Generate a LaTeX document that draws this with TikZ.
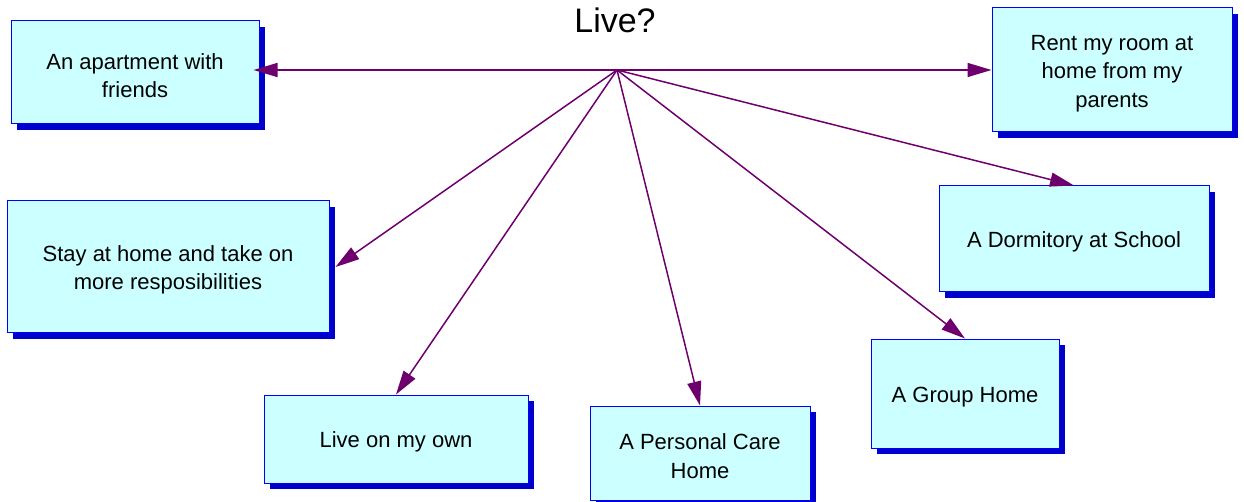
\documentclass[tikz,border=0pt]{standalone}
\usepackage{fontspec}
\setmainfont{Liberation Sans}
\usetikzlibrary{arrows.meta,shadows,calc}
\definecolor{boxfill}{HTML}{CCFFFF}
\definecolor{boxline}{HTML}{0000FF}
\definecolor{boxshade}{HTML}{0000CC}
\definecolor{linkline}{HTML}{6E006E}
\newcommand{\topgap}{\rule{0pt}{22pt}}
\tikzset{
    choice/.style={draw=boxline, fill=boxfill, line width=1pt, align=center, inner sep=0pt,
        font=\fontsize{22}{28.5}\selectfont, execute at begin node={\topgap},
        drop shadow={shadow xshift=6pt, shadow yshift=-6pt, fill=boxshade, opacity=1}},
    link/.style={draw=linkline, line width=1.5pt, -{Triangle[length=24pt,width=14pt]}}
}

\begin{document}
\begin{tikzpicture}[x=1pt,y=-1pt]
    \useasboundingbox (0,0) rectangle (1244,502);

    % Title
    \node[font=\fontsize{34}{40}\selectfont] (title) at (615,20) {Live?};
    \coordinate (hub) at (617,70);

    % Choices
    \node[choice, minimum width=248pt, minimum height=103pt] (apt) at (135,72.5) {\topgap An apartment with\\friends};
    \node[choice, minimum width=240pt, minimum height=124pt] (rent) at (1112,70) {\topgap Rent my room at\\home from my\\parents};
    \node[choice, minimum width=322pt, minimum height=132pt] (stay) at (168,267) {\topgap Stay at home and take on\\more resposibilities};
    \node[choice, minimum width=270pt, minimum height=106pt] (dorm) at (1074,239) {A Dormitory at School};
    \node[choice, minimum width=188pt, minimum height=109pt] (group) at (965,393.5) {A Group Home};
    \node[choice, minimum width=264pt, minimum height=88pt] (own) at (396,439) {Live on my own};
    \node[choice, minimum width=220pt, minimum height=94pt] (care) at (700,453) {\topgap A Personal Care\\Home};

    % Links
    \draw[link, shorten >=-6pt] (hub) -- (hub -| apt.east);
    \draw[link] (hub) -- (rent.west);
    \draw[link] (hub) -- ([xshift=6pt]stay.east);
    \draw[link] (hub) -- (dorm.north);
    \draw[link] (hub) -- (group.north);
    \draw[link] (hub) -- (own.north);
    \draw[link] (hub) -- (care.north);
\end{tikzpicture}
\end{document}
